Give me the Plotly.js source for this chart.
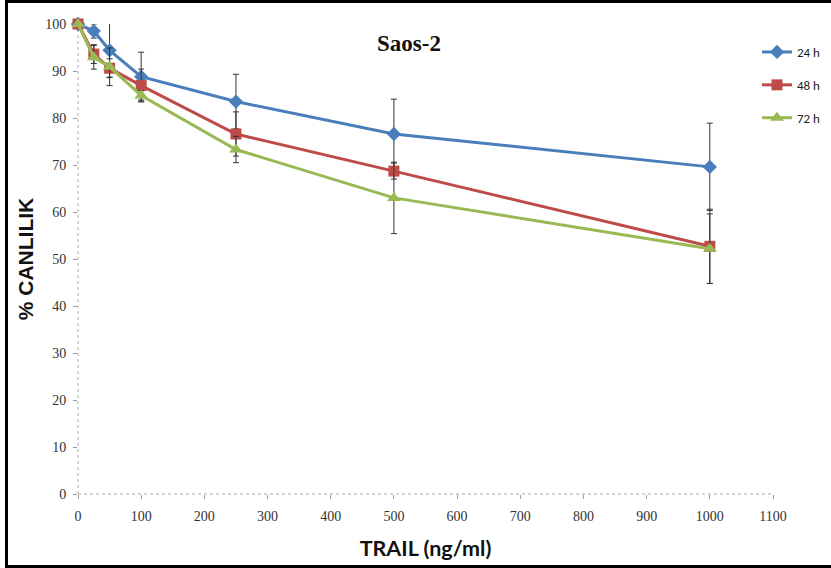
<!DOCTYPE html>
<html>
<head>
<meta charset="utf-8">
<script src="https://cdn.plot.ly/plotly-3.0.1.min.js"></script>
<style>
  html, body { margin: 0; padding: 0; background: #fff; }
  #wrap { position: relative; width: 831px; height: 568px; overflow: hidden; }
  #chart { position: absolute; left: 0; top: 0; width: 831px; height: 568px; }
  #frame { position: absolute; left: 5px; top: 0px; width: 840px; height: 562px;
           border: 3px solid #000; box-sizing: content-box; pointer-events: none; }
</style>
</head>
<body>
<div id="wrap">
  <div id="chart"></div>
  <div id="frame"></div>
</div>
<script>
const doses = [0, 25, 50, 100, 250, 500, 1000];
const seriesNames = ["24 h", "48 h", "72 h"];
const v24 = [100, 98.5, 94.4, 88.8, 83.5, 76.6, 69.6];
const v48 = [100, 93.6, 90.6, 86.9, 76.6, 68.7, 52.7];
const v72 = [100, 92.9, 90.9, 84.8, 73.3, 63.0, 52.2];
const e24 = [0, 1.5, 5.7, 5.2, 5.8, 7.4, 9.3];
const e48 = [0, 2.0, 2.0, 3.5, 4.7, 1.7, 7.9];
const e72 = [0, 2.5, 4.0, 1.0, 2.8, 7.6, 7.4];
const xTicks = [0, 100, 200, 300, 400, 500, 600, 700, 800, 900, 1000, 1100];
const yTicks = [0, 10, 20, 30, 40, 50, 60, 70, 80, 90, 100];

const colors = ["#4A7EBB", "#BE4B48", "#98B954"];
const symbols = ["diamond", "square", "triangle-up"];
const sizes = [11, 11, 12];
const vals = [v24, v48, v72];
const errs = [e24, e48, e72];

const traces = vals.map((v, i) => ({
  type: "scatter",
  mode: "lines+markers",
  name: seriesNames[i],
  legendgroup: "g" + i,
  x: doses,
  y: v,
  line: { color: colors[i], width: 3 },
  marker: { color: colors[i], symbol: symbols[i], size: sizes[i] },
  error_y: { type: "data", array: errs[i], visible: true, color: "#333333", thickness: 1, width: 3 },
  cliponaxis: false
}));

const tickFont = { family: "'Liberation Serif', 'DejaVu Serif', serif", size: 14, color: "#333" };

const layout = {
  width: 831, height: 568,
  margin: { l: 78, r: 58, t: 24, b: 74, autoexpand: false },
  paper_bgcolor: "#fff", plot_bgcolor: "#fff",
  showlegend: true,
  legend: {
    xref: "container", yref: "container",
    x: 757 / 831, y: 1 - 37 / 568, xanchor: "left", yanchor: "top",
    traceorder: "grouped", tracegroupgap: 13,
    font: { family: "Carlito, Lato, 'Open Sans', sans-serif", size: 13, color: "#222" },
    itemwidth: 30, bgcolor: "rgba(0,0,0,0)"
  },
  xaxis: {
    range: [0, 1100], tickvals: xTicks, ticktext: xTicks.map(String),
    showgrid: false, zeroline: false, showline: false,
    ticks: "outside", ticklen: 4, tickcolor: "#999", tickwidth: 1,
    ticklabelstandoff: 5,
    tickfont: tickFont,
    title: { text: "TRAIL (ng/ml)", font: { family: "Lato, 'Open Sans', sans-serif", size: 21.5, color: "#111", weight: "bold" }, standoff: 18 }
  },
  yaxis: {
    range: [0, 100], tickvals: yTicks, ticktext: yTicks.map(String),
    showgrid: false, zeroline: false, showline: false,
    ticks: "outside", ticklen: 4, tickcolor: "#999", tickwidth: 1,
    ticklabelstandoff: 4,
    tickfont: tickFont,
    title: { text: "% CANLILIK", font: { family: "'Liberation Sans', Arial, sans-serif", size: 21, color: "#111", weight: "bold" }, standoff: 5 }
  },
  shapes: [
    { type: "line", xref: "paper", yref: "paper", x0: 0, x1: 0, y0: 0, y1: 1.01,
      line: { color: "#AAAAAA", width: 1, dash: "dot" }, layer: "below" },
    { type: "line", xref: "paper", yref: "paper", x0: 0, x1: 1, y0: 0, y1: 0,
      line: { color: "#AAAAAA", width: 1, dash: "dot" }, layer: "below" }
  ],
  annotations: [
    { text: "<b>Saos-2</b>", xref: "paper", yref: "paper", x: (409 - 78) / 695, y: (494 - 43) / 470,
      xanchor: "center", yanchor: "middle", showarrow: false,
      font: { family: "'Liberation Serif', 'DejaVu Serif', serif", size: 23, color: "#111" } }
  ]
};

Plotly.newPlot("chart", traces, layout, { displayModeBar: false, staticPlot: true });
</script>
</body>
</html>
